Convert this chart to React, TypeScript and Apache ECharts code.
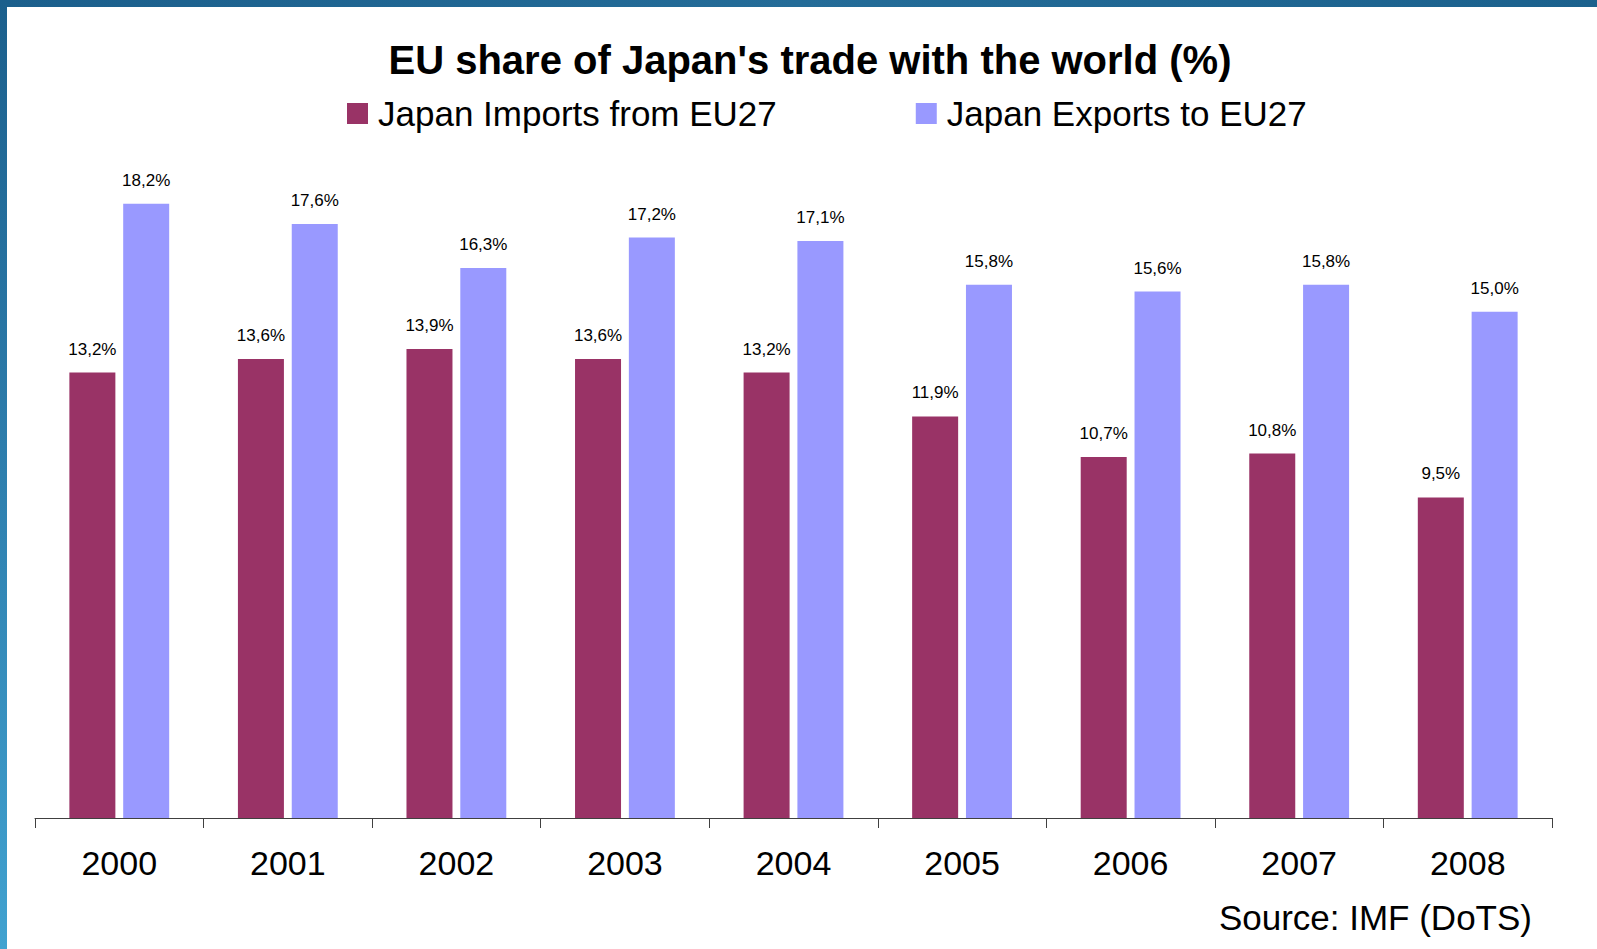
import React, { useEffect, useRef } from "react";
import * as echarts from "echarts";

const years = ["2000", "2001", "2002", "2003", "2004", "2005", "2006", "2007", "2008"];
const importsFromEU = [13.2, 13.6, 13.9, 13.6, 13.2, 11.9, 10.7, 10.8, 9.5];
const exportsToEU = [18.2, 17.6, 16.3, 17.2, 17.1, 15.8, 15.6, 15.8, 15.0];
const seriesNames = ["Japan Imports from EU27", "Japan Exports to EU27"];
const titleText = "EU share of Japan's trade with the world (%)";
const sourceText = "Source: IMF (DoTS)";

const FONT = "'Liberation Sans', Arial, Helvetica, sans-serif";

export default function App() {
  const ref = useRef<HTMLDivElement>(null);
  useEffect(() => {
    if (!ref.current) return;
    const chart = echarts.init(ref.current, null, { renderer: "svg" });
    const fmt = (p: any) => Number(p.value).toFixed(1).replace(".", ",") + "%";
    chart.setOption({
      animation: false,
      backgroundColor: "#ffffff",
      textStyle: { fontFamily: FONT },
      grid: { left: 35, right: 45, top: 143, bottom: 131, containLabel: false },
      legend: {
        data: seriesNames,
        top: 96,
        left: 347,
        padding: 0,
        itemWidth: 21,
        itemHeight: 21,
        itemGap: 139,
        icon: "rect",
        textStyle: { fontSize: 35, color: "#000", fontFamily: FONT, padding: [0, 0, 0, 5] },
      },
      xAxis: {
        type: "category",
        data: years,
        axisLine: { lineStyle: { color: "#404040", width: 1 } },
        axisTick: { show: true, length: 10, lineStyle: { color: "#404040" } },
        axisLabel: { fontSize: 34, color: "#000", margin: 28, fontFamily: FONT },
      },
      yAxis: { type: "value", min: 0, max: 20, show: false, splitLine: { show: false } },
      series: [
        {
          name: seriesNames[0],
          type: "bar",
          data: importsFromEU,
          barWidth: 46,
          barGap: "17%",
          itemStyle: { color: "#993366" },
          label: { show: true, position: "top", distance: 15, fontSize: 17, color: "#000", formatter: fmt, fontFamily: FONT },
        },
        {
          name: seriesNames[1],
          type: "bar",
          data: exportsToEU,
          barWidth: 46,
          barGap: "17%",
          itemStyle: { color: "#9999FF" },
          label: { show: true, position: "top", distance: 15, fontSize: 17, color: "#000", formatter: fmt, fontFamily: FONT },
        },
      ],
      graphic: [
        {
          type: "rect",
          shape: { x: 0, y: 0, width: 1597, height: 7 },
          style: {
            fill: new echarts.graphic.LinearGradient(0, 0, 1, 0, [
              { offset: 0, color: "#1b5f8c" },
              { offset: 0.5, color: "#246c98" },
              { offset: 1, color: "#1b618d" },
            ]),
          },
          silent: true,
        },
        {
          type: "rect",
          shape: { x: 0, y: 0, width: 7, height: 949 },
          style: {
            fill: new echarts.graphic.LinearGradient(0, 0, 0, 1, [
              { offset: 0, color: "#1b5f8c" },
              { offset: 0.5, color: "#2e7fae" },
              { offset: 1, color: "#41a2d0" },
            ]),
          },
          silent: true,
        },
        {
          type: "text",
          x: 810,
          y: 60,
          style: {
            text: titleText,
            fontSize: 40,
            fontWeight: "bold",
            fontFamily: FONT,
            fill: "#000",
            textAlign: "center",
            textVerticalAlign: "middle",
          },
        },
        {
          type: "text",
          x: 1532,
          y: 917,
          style: {
            text: sourceText,
            fontSize: 35,
            fontFamily: FONT,
            fill: "#000",
            textAlign: "right",
            textVerticalAlign: "middle",
          },
        },
      ],
    });
    return () => chart.dispose();
  }, []);
  return (
    <div
      ref={ref}
      style={{ position: "fixed", left: 0, top: 0, width: 1597, height: 949 }}
    />
  );
}
